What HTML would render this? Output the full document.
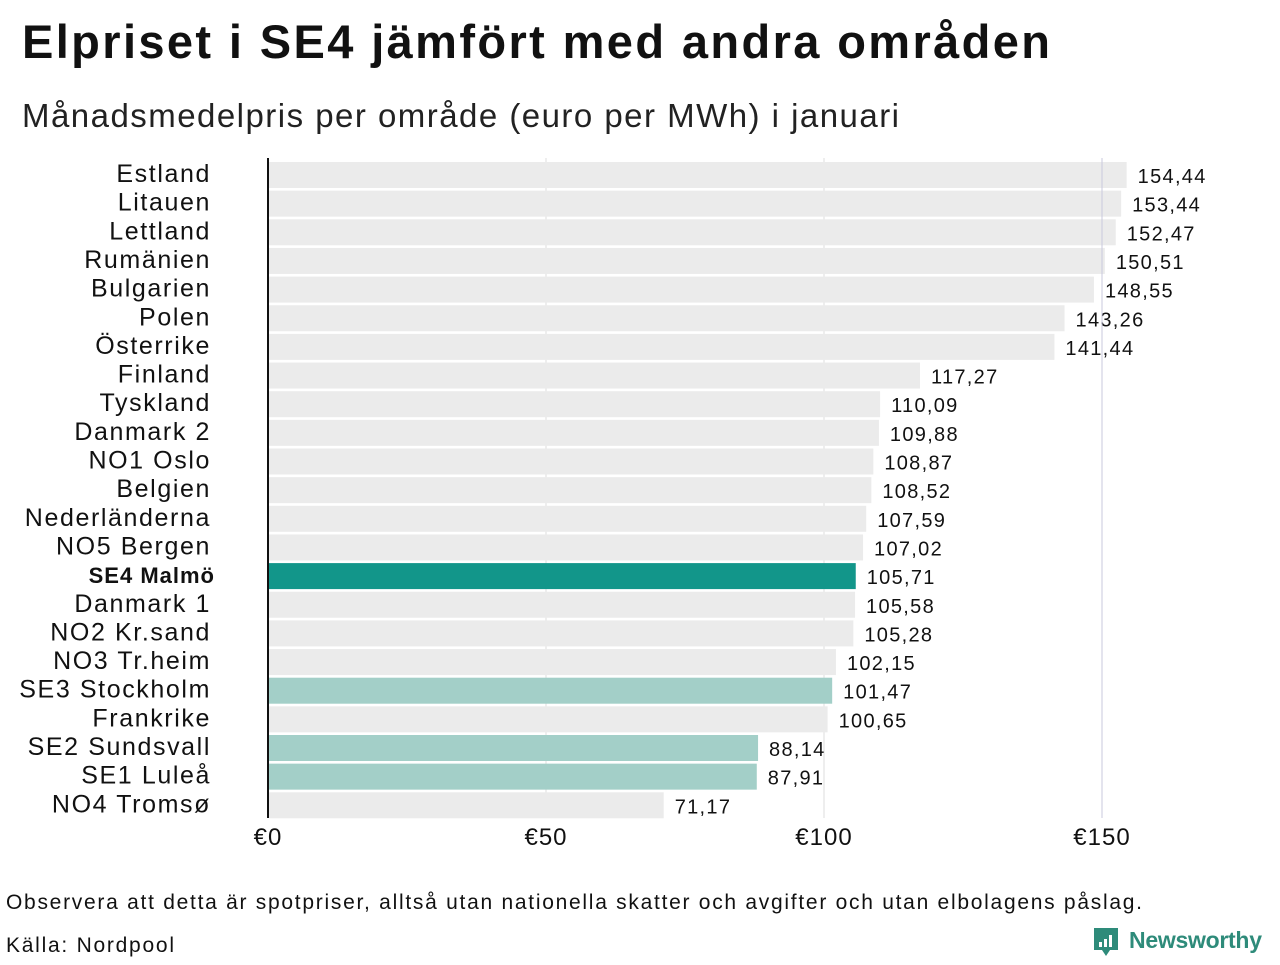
<!DOCTYPE html>
<html><head><meta charset="utf-8">
<style>
body{margin:0;background:#fff;width:1280px;height:960px;overflow:hidden;font-family:"Liberation Sans",sans-serif;}
</style></head>
<body>
<svg id="chart" width="1280" height="960" xmlns="http://www.w3.org/2000/svg" font-family="Liberation Sans, sans-serif">
<text x="22" y="58" font-size="47" font-weight="bold" fill="#111" textLength="1028" lengthAdjust="spacing">Elpriset i SE4 jämfört med andra områden</text>
<text x="22" y="127" font-size="33" fill="#222" textLength="877" lengthAdjust="spacing">Månadsmedelpris per område (euro per MWh) i januari</text>
<g id="grid"></g>
<g id="bars"></g>
<g id="grid2"></g>
<line x1="268" y1="158" x2="268" y2="818" stroke="#111" stroke-width="2"/>
<g id="xticks"></g>
<text x="6" y="909" font-size="21" fill="#111" textLength="1136" lengthAdjust="spacing">Observera att detta är spotpriser, alltså utan nationella skatter och avgifter och utan elbolagens påslag.</text>
<text x="6" y="952" font-size="21" fill="#111" textLength="168" lengthAdjust="spacing">Källa: Nordpool</text>
<g>
<path d="M1094 928 h24 v22 h-8 l-4 6 l-4 -6 h-8 z" fill="#2e8b7a"/>
<rect x="1099" y="942" width="3" height="5" fill="#fff"/><rect x="1104" y="939" width="3" height="8" fill="#fff"/><rect x="1109" y="935" width="3" height="12" fill="#fff"/>
<text x="1129" y="948" font-size="23" font-weight="bold" fill="#2e8b7a" textLength="133" lengthAdjust="spacing">Newsworthy</text>
</g>
</svg>
<script>
const categories=["Estland","Litauen","Lettland","Rumänien","Bulgarien","Polen","Österrike","Finland","Tyskland","Danmark  2","NO1 Oslo","Belgien","Nederländerna","NO5 Bergen","SE4 Malmö","Danmark  1","NO2 Kr.sand","NO3 Tr.heim","SE3  Stockholm","Frankrike","SE2  Sundsvall","SE1  Luleå","NO4 Tromsø"];
const values=[154.44,153.44,152.47,150.51,148.55,143.26,141.44,117.27,110.09,109.88,108.87,108.52,107.59,107.02,105.71,105.58,105.28,102.15,101.47,100.65,88.14,87.91,71.17];
const highlight=["SE4 Malmö"];
const swedish=["SE3  Stockholm","SE2  Sundsvall","SE1  Luleå"];
const ticks=[0,50,100,150];
const NS="http://www.w3.org/2000/svg";
const x=v=>268+v*834/150;
const y=i=>162+i*28.65;
const bh=26;
function mk(t,a,p){const e=document.createElementNS(NS,t);for(const k in a)e.setAttribute(k,a[k]);p.appendChild(e);return e;}
const grid=document.getElementById('grid'),grid2=document.getElementById('grid2'),bars=document.getElementById('bars'),xt=document.getElementById('xticks');
ticks.forEach(t=>{
  if(t>0){const l=mk('line',{x1:x(t),x2:x(t),y1:158,y2:818,stroke:t==150?'#c8c8dc':'#ddd','stroke-width':1},t==150?grid2:grid);
  
  }
  const tx=mk('text',{x:x(t),y:845,'font-size':24,'text-anchor':'middle',fill:'#111','letter-spacing':'1'},xt);
  tx.textContent='€'+t;
  
  
});
categories.forEach((c,i)=>{
  const col=highlight.includes(c)?'#12968a':swedish.includes(c)?'#a3cfc8':'#ebebeb';
  const r=mk('rect',{x:269,y:y(i),width:x(values[i])-269,height:bh,fill:col},bars);
  
  
  const lb=mk('text',{x:211,y:y(i)+20,'font-size':25,'text-anchor':'end',fill:'#111','letter-spacing':'1.6'},bars);
  if(highlight.includes(c)){lb.setAttribute('font-weight','bold');lb.setAttribute('font-size','22');lb.setAttribute('x','215');lb.setAttribute('letter-spacing','1');}
  lb.textContent=c;
  
  
  const v=mk('text',{x:x(values[i])+11,y:y(i)+21,'font-size':20,fill:'#111','letter-spacing':'1.3'},bars);
  v.textContent=values[i].toFixed(2).replace('.',',');
  
  
});
</script>
</body></html>
